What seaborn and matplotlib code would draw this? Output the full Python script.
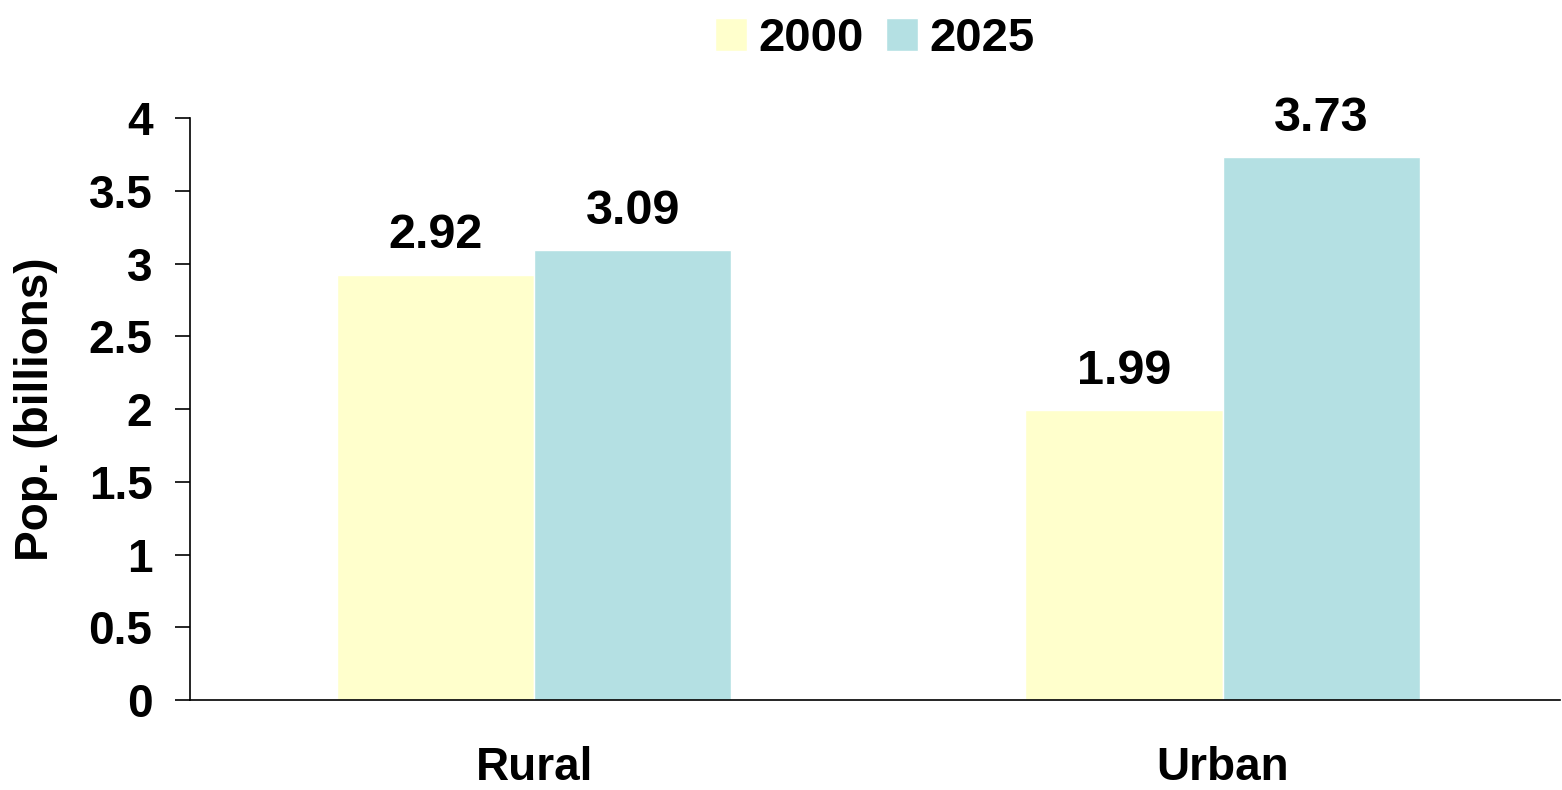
import pandas as pd
import matplotlib.pyplot as plt
import seaborn as sns

# ── Data ──────────────────────────────────────────────
areas = ["Rural", "Urban"]
years = ["2000", "2025"]
pop_2000 = [2.92, 1.99]
pop_2025 = [3.09, 3.73]
colors = ["#FFFFCC", "#B4E0E3"]

df = pd.DataFrame({
    "area": areas * 2,
    "year": [years[0]] * 2 + [years[1]] * 2,
    "pop": pop_2000 + pop_2025,
})

# ── Style ─────────────────────────────────────────────
sns.set_style("white")
plt.rcParams["font.family"] = ["Liberation Sans", "DejaVu Sans"]
plt.rcParams["font.weight"] = "bold"
plt.rcParams["text.color"] = "black"
plt.rcParams["axes.labelcolor"] = "black"
plt.rcParams["xtick.color"] = "black"
plt.rcParams["ytick.color"] = "black"

fig = plt.figure(figsize=(15.62, 7.90), dpi=100)
ax = fig.add_axes([0.1216, 0.1139, 0.8771, 0.7367])

sns.barplot(data=df, x="area", y="pop", hue="year", palette=colors,
            width=0.573, gap=0, saturation=1, ax=ax, legend=True)

for c in ax.containers:
    ax.bar_label(c, fmt="%.2f", padding=12, fontsize=35, fontweight="bold",
                 color="black")

ax.set_ylim(0, 4)
ax.set_xlim(-0.5, 1.49)
ax.set_yticks([0, 0.5, 1, 1.5, 2, 2.5, 3, 3.5, 4])
ax.set_yticklabels(["0", "0.5", "1", "1.5", "2", "2.5", "3", "3.5", "4"])
ax.tick_params(axis="y", length=11, width=1.2, pad=16, labelsize=33,
               direction="out", left=True, colors="black")
ax.tick_params(axis="x", length=0, pad=33, labelsize=33, colors="black")
for lab in ax.get_xticklabels() + ax.get_yticklabels():
    lab.set_fontweight("bold")

ax.set_xlabel("")
ax.set_ylabel("Pop. (billions)", fontsize=33, fontweight="bold", labelpad=22,
              color="black")

sns.despine(ax=ax)
for s in ["left", "bottom"]:
    ax.spines[s].set_linewidth(1.2)
    ax.spines[s].set_color("black")

handles, labels = ax.get_legend_handles_labels()
leg = ax.legend(handles, labels, loc="lower center", bbox_to_anchor=(0.5, 1.025),
                ncol=2, frameon=False, handlelength=0.68,
                handleheight=0.68, handletextpad=0.24, columnspacing=0.46,
                prop={"weight": "bold", "size": 34})
for t in leg.get_texts():
    t.set_color("black")

plt.savefig("out.png", dpi=100)
